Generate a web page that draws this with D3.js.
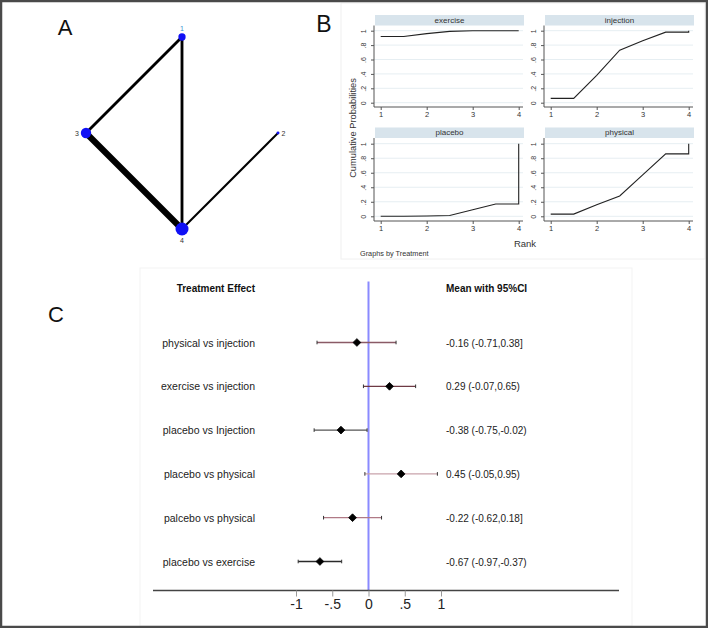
<!DOCTYPE html>
<html>
<head>
<meta charset="utf-8">
<script src="https://cdn.jsdelivr.net/npm/d3@7"></script>
<style>
  body { margin: 0; background: #fff; }
  svg { display: block; font-family: "Liberation Sans", Arial, sans-serif; }
</style>
</head>
<body>
<div id="chart"></div>
<script>
// ---- data ----
// A: network
var nodeIds = ["1", "2", "4", "3"];           // order round the circle, from top, clockwise
var nodeSize = [60, 10, 190, 120];
var edgeFrom = ["1", "1", "3", "4"];
var edgeTo = ["3", "4", "4", "2"];
var edgeStudies = [2, 2, 6, 1];

// B: cumulative ranking
var facets = ["exercise", "injection", "placebo", "physical"];
var rankX = [1, 1.5, 2, 2.5, 3, 3.5, 4, 4];
var cumExercise = [0.92, 0.92, 0.96, 0.99, 1, 1, 1, 1];
var cumInjection = [0.06, 0.06, 0.38, 0.73, 0.86, 0.98, 0.98, 1];
var cumPlacebo = [0, 0, 0.005, 0.01, 0.09, 0.17, 0.17, 1];
var cumPhysical = [0.03, 0.03, 0.16, 0.28, 0.57, 0.86, 0.86, 1];
var probTicks = [0, 0.2, 0.4, 0.6, 0.8, 1];
var probTickLabels = ["0", ".2", ".4", ".6", ".8", "1"];
var rankTicks = [1, 2, 3, 4];

// C: forest plot
var comparisons = ["physical vs injection", "exercise vs injection", "placebo vs Injection",
                   "placebo vs physical", "palcebo vs physical", "placebo vs exercise"];
var means = [-0.16, 0.29, -0.38, 0.45, -0.22, -0.67];
var lower = [-0.71, -0.07, -0.75, -0.05, -0.62, -0.97];
var upper = [0.38, 0.65, -0.02, 0.95, 0.18, -0.37];
var ciText = ["-0.16 (-0.71,0.38]", "0.29 (-0.07,0.65)", "-0.38 (-0.75,-0.02)",
              "0.45 (-0.05,0.95)", "-0.22 (-0.62,0.18]", "-0.67 (-0.97,-0.37)"];
var effTicks = [-1, -0.5, 0, 0.5, 1];
var effTickLabels = ["-1", "-.5", "0", ".5", "1"];

var ciColors = ["#8a5a66", "#6e3a44", "#555555", "#c9a3ab", "#b07a86", "#2a2a2a"];

var W = 708, H = 628;
var svg = d3.select("#chart").append("svg")
    .attr("width", W).attr("height", H);

svg.append("rect").attr("width", W).attr("height", H).attr("fill", "#fff");

// faint panel frames
svg.append("rect").attr("x", 341).attr("y", 3).attr("width", 364).attr("height", 256)
    .attr("fill", "none").attr("stroke", "#f0f0f0");
svg.append("rect").attr("x", 140).attr("y", 268).attr("width", 492).attr("height", 358)
    .attr("fill", "none").attr("stroke", "#f3f3f3");

// ---- panel letters ----
svg.append("text").attr("x", 65).attr("y", 35).attr("text-anchor", "middle")
    .attr("font-size", 22).attr("fill", "#111").text("A");
svg.append("text").attr("x", 324).attr("y", 32).attr("text-anchor", "middle")
    .attr("font-size", 23).attr("fill", "#111").text("B");
svg.append("text").attr("x", 56).attr("y", 322).attr("text-anchor", "middle")
    .attr("font-size", 22).attr("fill", "#111").text("C");

// ---- A: network plot ----
var cx = 182, cy = 133, R = 96;
var angle = d3.scalePoint().domain(nodeIds).range([-Math.PI / 2, Math.PI]);
var rNode = d3.scaleSqrt().domain([0, d3.max(nodeSize)]).range([0, 6.5]);
var wEdge = d3.scaleLinear().domain([1, 6]).range([2, 6.2]);

function pos(id) {
  var a = angle(id);
  return [cx + R * Math.cos(a), cy + R * Math.sin(a)];
}

var gA = svg.append("g");
gA.selectAll("line.edge")
  .data(edgeFrom.map(function (f, i) { return { f: f, t: edgeTo[i], n: edgeStudies[i] }; }))
  .enter().append("line")
  .attr("class", "edge")
  .attr("x1", function (d) { return pos(d.f)[0]; })
  .attr("y1", function (d) { return pos(d.f)[1]; })
  .attr("x2", function (d) { return pos(d.t)[0]; })
  .attr("y2", function (d) { return pos(d.t)[1]; })
  .attr("stroke", "#000")
  .attr("stroke-width", function (d) { return wEdge(d.n); });

var nodes = nodeIds.map(function (id, i) { return { id: id, n: nodeSize[i] }; });
gA.selectAll("circle")
  .data(nodes).enter().append("circle")
  .attr("cx", function (d) { return pos(d.id)[0]; })
  .attr("cy", function (d) { return pos(d.id)[1]; })
  .attr("r", function (d) { return rNode(d.n); })
  .attr("fill", "#1010f5");

gA.selectAll("text.nlab")
  .data(nodes).enter().append("text")
  .attr("class", "nlab")
  .attr("font-size", 7)
  .attr("fill", function (d) { return d.id === "1" ? "#3a8fd0" : "#333"; })
  .attr("text-anchor", "middle")
  .attr("dominant-baseline", "central")
  .attr("x", function (d) { return pos(d.id)[0] + Math.cos(angle(d.id)) * (rNode(d.n) + 4); })
  .attr("y", function (d) { return pos(d.id)[1] + Math.sin(angle(d.id)) * (rNode(d.n) + 5); })
  .text(function (d) { return d.id; });

// ---- B: cumulative ranking plots ----
var cumSeries = [cumExercise, cumInjection, cumPlacebo, cumPhysical];
var cols = [{ axis: 374, r1: 380.7, r4: 518.7, right: 523 },
            { axis: 544, r1: 550.7, r4: 688.7, right: 693 }];
var rows = [{ st: 15, sb: 25.5, y1: 30.7, y0: 102.7, ax: 107 },
            { st: 127.5, sb: 138, y1: 143.7, y0: 216.3, ax: 221 }];

facets.forEach(function (name, i) {
  var c = cols[i % 2], r = rows[Math.floor(i / 2)];
  var x = d3.scaleLinear().domain([1, 4]).range([c.r1, c.r4]);
  var y = d3.scaleLinear().domain([0, 1]).range([r.y0, r.y1]);
  var g = svg.append("g");

  // strip
  g.append("rect").attr("x", c.axis + 1).attr("y", r.st)
    .attr("width", c.right - c.axis).attr("height", r.sb - r.st)
    .attr("fill", "#d8e4ec");
  g.append("text").attr("x", (c.axis + c.right) / 2 + 1).attr("y", (r.st + r.sb) / 2)
    .attr("text-anchor", "middle").attr("dominant-baseline", "central")
    .attr("font-size", 8).attr("fill", "#333").text(name);

  // grid
  g.selectAll("line.grid").data(probTicks).enter().append("line")
    .attr("x1", c.axis).attr("x2", c.right)
    .attr("y1", function (d) { return y(d); }).attr("y2", function (d) { return y(d); })
    .attr("stroke", "#e6eef2").attr("stroke-width", 1);

  // y axis
  var ya = g.append("g").attr("transform", "translate(" + c.axis + ",0)")
    .call(d3.axisLeft(y).tickValues(probTicks).tickSize(3).tickPadding(3)
      .tickFormat(function (d, k) { return probTickLabels[k]; }));
  ya.select(".domain").attr("d", "M0," + r.sb + "V" + r.ax).attr("stroke", "#555");
  ya.selectAll(".tick line").attr("stroke", "#555");
  ya.selectAll(".tick text")
    .attr("font-size", 7).attr("fill", "#333")
    .attr("text-anchor", "middle").attr("x", 0).attr("dy", 0)
    .attr("transform", "translate(-8,0) rotate(-90)");

  // x axis
  var xa = g.append("g").attr("transform", "translate(0," + r.ax + ")")
    .call(d3.axisBottom(x).tickValues(rankTicks).tickSize(3).tickPadding(2)
      .tickFormat(d3.format("d")));
  xa.select(".domain").attr("d", "M" + c.axis + ",0H" + c.right).attr("stroke", "#555");
  xa.selectAll(".tick line").attr("stroke", "#555");
  xa.selectAll(".tick text").attr("font-size", 7.5).attr("fill", "#333");

  // line
  var line = d3.line().x(function (d, k) { return x(rankX[k]); }).y(function (d) { return y(d); });
  g.append("path").datum(cumSeries[i])
    .attr("d", line).attr("fill", "none")
    .attr("stroke", "#222").attr("stroke-width", 1.1);
});

svg.append("text").attr("transform", "translate(356,128) rotate(-90)")
  .attr("text-anchor", "middle").attr("font-size", 9.3).attr("fill", "#333")
  .text("Cumulative Probabilities");
svg.append("text").attr("x", 525).attr("y", 247).attr("text-anchor", "middle")
  .attr("font-size", 9.5).attr("fill", "#333").text("Rank");
svg.append("text").attr("x", 360).attr("y", 256)
  .attr("font-size", 7.3).attr("fill", "#333").text("Graphs by Treatment");

// ---- C: forest plot ----
var xF = d3.scaleLinear().domain([-1, 1]).range([296, 441]);
var yF = d3.scalePoint().domain(comparisons).range([342.5, 561.5]);
var gC = svg.append("g");

gC.append("text").attr("x", 255).attr("y", 292).attr("text-anchor", "end")
  .attr("font-size", 10).attr("font-weight", "bold").attr("fill", "#111").text("Treatment Effect");
gC.append("text").attr("x", 446).attr("y", 292)
  .attr("font-size", 10).attr("font-weight", "bold").attr("fill", "#111").text("Mean with 95%CI");

gC.append("line").attr("x1", xF(0)).attr("x2", xF(0)).attr("y1", 281.5).attr("y2", 590.5)
  .attr("stroke", "#8a8aff").attr("stroke-width", 2);

var rowsC = comparisons.map(function (c, i) {
  return { c: c, m: means[i], lo: lower[i], hi: upper[i], txt: ciText[i], col: ciColors[i] };
});

var rowG = gC.selectAll("g.row").data(rowsC).enter().append("g")
  .attr("class", "row")
  .attr("transform", function (d) { return "translate(0," + yF(d.c) + ")"; });

rowG.append("line")
  .attr("x1", function (d) { return xF(d.lo); }).attr("x2", function (d) { return xF(d.hi); })
  .attr("stroke", function (d) { return d.col; }).attr("stroke-width", 1.3);
rowG.append("line")
  .attr("x1", function (d) { return xF(d.lo); }).attr("x2", function (d) { return xF(d.lo); })
  .attr("y1", -1.8).attr("y2", 1.8).attr("stroke", "#333").attr("stroke-width", 1);
rowG.append("line")
  .attr("x1", function (d) { return xF(d.hi); }).attr("x2", function (d) { return xF(d.hi); })
  .attr("y1", -1.8).attr("y2", 1.8).attr("stroke", "#333").attr("stroke-width", 1);
rowG.append("path")
  .attr("d", d3.symbol().type(d3.symbolSquare).size(30))
  .attr("transform", function (d) { return "translate(" + xF(d.m) + ",0) rotate(45)"; })
  .attr("fill", "#000").attr("stroke", "#000").attr("stroke-width", 0.8)
  .attr("stroke-linejoin", "round");

rowG.append("text").attr("x", 255).attr("y", 4).attr("text-anchor", "end")
  .attr("font-size", 10.5).attr("fill", "#222").text(function (d) { return d.c; });
rowG.append("text").attr("x", 446).attr("y", 4)
  .attr("font-size", 10).attr("fill", "#222").text(function (d) { return d.txt; });

var xAxC = gC.append("g").attr("transform", "translate(0,590.5)")
  .call(d3.axisBottom(xF).tickValues(effTicks).tickSize(6).tickPadding(3)
    .tickFormat(function (d, k) { return effTickLabels[k]; }));
xAxC.select(".domain").attr("d", "M153,0H619").attr("stroke", "#444").attr("stroke-width", 1.6);
xAxC.selectAll(".tick line").attr("stroke", "#999");
xAxC.selectAll(".tick text").attr("font-size", 14).attr("fill", "#222")
  .attr("font-family", "Liberation Sans, Arial, sans-serif");

// outer border
svg.append("rect").attr("x", 1).attr("y", 1).attr("width", W - 2).attr("height", H - 2)
  .attr("fill", "none").attr("stroke", "#4a4a4a").attr("stroke-width", 2.5);
</script>
</body>
</html>
